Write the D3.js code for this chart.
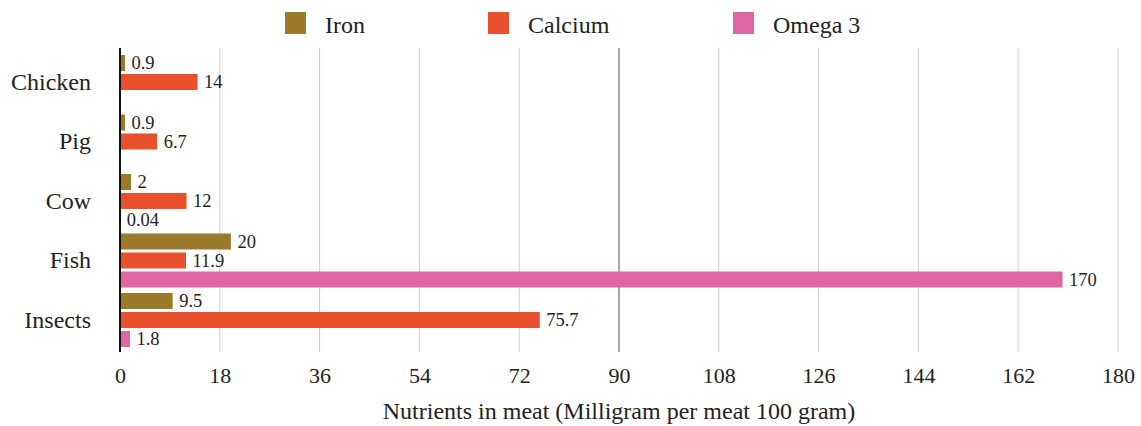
<!DOCTYPE html>
<html>
<head>
<meta charset="utf-8">
<script src="https://cdn.jsdelivr.net/npm/d3@7"></script>
<style>
  body { margin: 0; background: #fff; }
</style>
</head>
<body>
<svg id="chart"></svg>
<script>
// Nutrients per 100 g of meat
const categories = ["Chicken", "Pig", "Cow", "Fish", "Insects"];
const seriesNames = ["Iron", "Calcium", "Omega 3"];
const ironValues = [0.9, 0.9, 2, 20, 9.5];
const calciumValues = [14, 6.7, 12, 11.9, 75.7];
const omegaValues = [null, null, 0.04, 170, 1.8];
const xTicks = [0, 18, 36, 54, 72, 90, 108, 126, 144, 162, 180];
const colors = ["#9b7a2b", "#e8502e", "#dd66a3"];

const serif = "Liberation Serif";
const width = 1141, height = 426;
const plot = { left: 120, right: 1118, top: 48, bottom: 352 };

const svg = d3.select("#chart").attr("width", width).attr("height", height);

// build rows from the arrays
const seriesValues = [ironValues, calciumValues, omegaValues];
const rows = categories.map((c, i) => ({
    name: c,
    values: seriesNames.map((s, j) => ({ key: s, value: seriesValues[j][i], color: colors[j] }))
}));

// scales
const x = d3.scaleLinear().domain([0, 180]).range([plot.left, plot.right]);
const y0 = d3.scaleBand().domain(categories).range([52.25, 349.75]).paddingInner(0.092).paddingOuter(0.046);
const y1 = d3.scaleBand().domain(seriesNames).range([0, y0.bandwidth()]).paddingInner(0.158);

// grid lines
svg.append("g")
    .selectAll("line")
    .data(xTicks.filter(t => t > 0))
    .join("line")
    .attr("x1", d => x(d)).attr("x2", d => x(d))
    .attr("y1", plot.top).attr("y2", plot.bottom)
    .attr("stroke", d => d === 90 ? "#555" : "#ccc")
    .attr("stroke-width", 1);

// x axis labels
const xAxis = svg.append("g")
    .attr("transform", `translate(0,${plot.bottom})`)
    .call(d3.axisBottom(x).tickValues(xTicks).tickSize(0).tickPadding(0));
xAxis.select(".domain").remove();
xAxis.selectAll("text")
    .attr("y", 31)
    .attr("dy", null)
    .attr("font-family", serif)
    .attr("font-size", 22)
    .attr("fill", "#222");

// category labels
const yAxis = svg.append("g")
    .attr("transform", `translate(${plot.left},0)`)
    .call(d3.axisLeft(y0).tickSize(0).tickPadding(29));
yAxis.select(".domain").remove();
yAxis.selectAll("text")
    .attr("font-family", serif)
    .attr("font-size", 24)
    .attr("fill", "#222");

// bars
const groups = svg.append("g")
    .selectAll("g")
    .data(rows)
    .join("g")
    .attr("transform", d => `translate(0,${y0(d.name)})`);

groups.selectAll("rect")
    .data(d => d.values.filter(v => v.value !== null))
    .join("rect")
    .attr("x", x(0))
    .attr("y", d => y1(d.key))
    .attr("width", d => x(d.value) - x(0))
    .attr("height", y1.bandwidth())
    .attr("fill", d => d.color);

groups.selectAll("text.val")
    .data(d => d.values.filter(v => v.value !== null))
    .join("text")
    .attr("class", "val")
    .attr("x", d => x(d.value) + 6.5)
    .attr("y", d => y1(d.key) + y1.bandwidth() / 2)
    .attr("dy", "0.35em")
    .attr("font-family", serif)
    .attr("font-size", 18.5)
    .attr("fill", "#222")
    .text(d => d.value);

// zero line
svg.append("line")
    .attr("x1", x(0)).attr("x2", x(0))
    .attr("y1", plot.top).attr("y2", plot.bottom)
    .attr("stroke", "#111")
    .attr("stroke-width", 2);

// axis title
svg.append("text")
    .attr("x", (plot.left + plot.right) / 2)
    .attr("y", 419)
    .attr("text-anchor", "middle")
    .attr("font-family", serif)
    .attr("font-size", 24)
    .attr("fill", "#222")
    .text("Nutrients in meat (Milligram per meat 100 gram)");

// legend
const legendX = [285, 488, 733];
const legend = svg.append("g")
    .selectAll("g")
    .data(seriesNames)
    .join("g")
    .attr("transform", (d, i) => `translate(${legendX[i]},12)`);
legend.append("rect")
    .attr("width", 21).attr("height", 22)
    .attr("fill", (d, i) => colors[i]);
legend.append("text")
    .attr("x", 40).attr("y", 21)
    .attr("font-family", serif)
    .attr("font-size", 24)
    .attr("fill", "#222")
    .text(d => d);
</script>
</body>
</html>
